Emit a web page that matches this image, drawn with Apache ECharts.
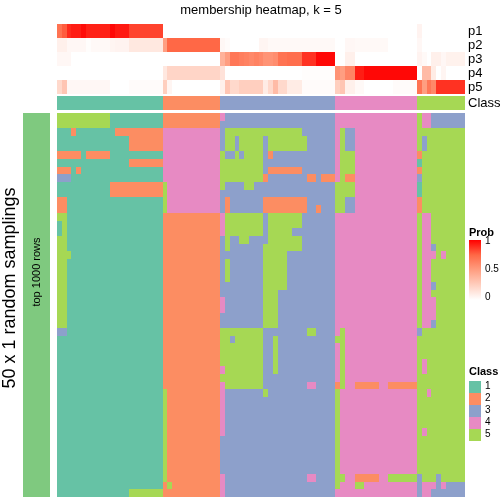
<!DOCTYPE html>
<html><head><meta charset="utf-8">
<script src="https://cdn.jsdelivr.net/npm/echarts@6/dist/echarts.min.js"></script>
<style>html,body{margin:0;padding:0;background:#fff}#c{width:504px;height:504px}</style>
</head><body><div id="c"></div>
<script>
// ---- data ----
const probRowNames = ['p1','p2','p3','p4','p5'];
const p1 = [0.7,0.78,0.9,0.93,0.93,0.97,0.92,0.92,0.92,0.92,0.92,0.98,0.94,0.94,0.94,0.84,0.84,0.84,0.84,0.84,0.84,0.84,
  0,0,0,0,0,0,0,0,0,0,0,0,
  0,0,0,0,0,0,0,0,0,0,0,0,0,0,0,0,0,0,0,0,0,0,0,0,
  0,0,0,0,0,0,0,0,0,0,0,0,0,0,0,0,0,
  0.06,0,0,0,0,0,0,0,0,0];
const p2 = [0.08,0.08,0.04,0.04,0.04,0.04,0.01,0.03,0.03,0.03,0.03,0.05,0.06,0.06,0.06,0.12,0.12,0.12,0.12,0.12,0.12,0.12,
  0.5,0.75,0.75,0.75,0.75,0.75,0.75,0.75,0.75,0.75,0.75,0.75,
  0.04,0.02,0,0,0,0,0,0,0.05,0.05,0.03,0.03,0.03,0.03,0.03,0.03,0.03,0.03,0.03,0.03,0.03,0.03,0.03,0.03,
  0,0,0.04,0.04,0.03,0.03,0.03,0.03,0.03,0.03,0.03,0,0,0,0,0,0,
  0.04,0,0,0,0,0,0,0,0,0];
const p3 = [0.04,0.04,0.04,0,0,0,0,0,0,0,0,0,0,0,0,0,0,0,0,0,0,0,
  0,0,0,0,0,0,0,0,0,0,0,0,
  0.4,0.5,0.68,0.68,0.65,0.63,0.6,0.63,0.6,0.55,0.55,0.58,0.7,0.7,0.72,0.72,0.72,0.88,0.88,0.88,0.98,0.98,0.98,0.98,
  0,0,0.08,0.08,0,0,0,0,0,0,0,0,0,0,0,0,0,
  0.06,0.03,0,0.08,0.08,0.04,0.07,0.07,0.07,0.07];
const p4 = [0,0,0,0,0,0,0,0,0,0,0,0,0,0,0,0,0,0,0,0,0,0,
  0.12,0.22,0.22,0.22,0.22,0.22,0.22,0.22,0.22,0.22,0.22,0.22,
  0.15,0,0,0,0,0,0,0,0,0,0,0,0,0,0,0,0,0.01,0.01,0.01,0.01,0.01,0.01,0.01,
  0.55,0.5,0.62,0.62,0.93,0.93,0.98,0.98,0.98,0.98,0.98,0.98,0.98,0.98,0.98,0.98,0.98,
  0,0.35,0.35,0.1,0,0.05,0,0,0,0];
const p5 = [0.2,0.3,0.04,0.04,0.04,0.04,0.04,0.04,0.04,0.04,0.04,0,0,0,0,0.02,0.02,0.02,0.02,0.02,0.02,0.02,
  0.25,0.05,0,0,0,0,0,0,0,0,0,0,
  0.08,0.3,0.2,0.2,0.25,0.25,0.25,0.25,0.25,0.1,0.2,0.35,0.2,0.2,0.1,0.1,0.1,0.02,0.02,0.02,0.02,0.02,0.02,0.02,
  0.25,0.3,0.08,0.08,0.03,0.03,0,0,0,0,0,0,0.02,0.02,0.02,0.02,0.02,
  0.7,0.5,0.68,0.6,0.88,0.88,0.88,0.88,0.88,0.88];
const classRowStr = "1111111111 1111111111 11|222222222222|333333333333 333333333333|4444444444 4444444|5555555555";
const samplingRows = [
"55555555555 11111111111|222222222222|4 33333333333 333333333333|4444444444 4444444|5 44 3333333",
"55555555555 11111111111|222222222222|333333333333 333333333333|4444444444 4444444|5 44 3333333",
"111 2 11111111 2222222222|444444444444|3 5555555555 555555 3333333|4 5 33 4444444444 444|5555555555",
"1111111111 11111 2222222|444444444444|3 55 3 55555 3 55555555 333333|4 5 33 4444444444 444|5 3 55555555",
"1111111111 11111 2222222|444444444444|3 55 3 55555 3 55555555 333333|4 5 33 4444444444 444|5 3 55555555",
"22222 1 22222 11111111111|444444444444|5 33 5 3 5555 3 2 3333333333 333|4 555 4444444444 444|2 555555555",
"1111111111 11111 2222222|444444444444|555555555 3333333333 33333|4 555 4444444444 444|1 555555555",
"222 1 2 1111111111 1111111|444444444444|555555555 3 2222222 3333333|4 555 4444444444 444|2 555555555",
"333 1111111111 111111111|444444444444|555555555 2 33333333 22 3 222|4 5 22 4444444444 444|3 555555555",
"11111111111 22222222222|5 44444444444|5 3333 55 3333333333 3333333|5555 4444444444 444|1 555555555",
"11111111111 22222222222|5 44444444444|333333333333 333333333333|5555 4444444444 444|1 555555555",
"22 1111111111 1111111111|5 44444444444|3 2 3333333 222222222 333333|55 33 4444444444 444|2 555555555",
"22 1111111111 1111111111|5 44444444444|3 2 3333333 222222222 33 2 333|55 33 4444444444 444|2 555555555",
"55 1111111111 1111111111|222222222222|4 55555555 3 5555555 3333333|4444444444 4444444|5 44 5555555",
"1 5 1111111111 1111111111|222222222222|4 55555555 3 5555555 3333333|4444444444 4444444|5 44 5555555",
"1 5 1111111111 1111111111|222222222222|4 55555555 3 55555 333333333|4444444444 4444444|5 44 5555555",
"55 1111111111 1111111111|222222222222|3 5 33 55 3333 5555555 3333333|4444444444 4444444|5 44 5555555",
"55 1111111111 1111111111|222222222222|3 5 3333333 55555555 3333333|4444444444 4444444|5 44 3 555555",
"555 1111111111 111111111|222222222222|333333333 55555 3333333333|4444444444 4444444|5 444 5 4 5555",
"55 1111111111 1111111111|222222222222|3 5 3333333 55555 3333333333|4444444444 4444444|5 44 5555555",
"55 1111111111 1111111111|222222222222|3 5 3333333 55555 3333333333|4444444444 4444444|5 44 5555555",
"55 1111111111 1111111111|222222222222|3 5 3333333 55555 3333333333|4444444444 4444444|5 44 5555555",
"55 1111111111 1111111111|222222222222|333333333 55555 3333333333|4444444444 4444444|5 44 3 555555",
"55 1111111111 1111111111|222222222222|333333333 555 333333333333|4444444444 4444444|5 44 5555555",
"55 1111111111 1111111111|222222222222|4 33333333 555 333333333333|4444444444 4444444|5 444 555555",
"55 1111111111 1111111111|222222222222|4 33333333 555 333333333333|4444444444 4444444|5 444 555555",
"55 1111111111 1111111111|222222222222|333333333 555 333333333333|4444444444 4444444|5 444 555555",
"55 1111111111 1111111111|222222222222|333333333 555 333333333333|4444444444 4444444|5 44 3 555555",
"33 1111111111 1111111111|222222222222|555555555 333333333 55 3333|4 5 4444444444 44444|3 555555555",
"1111111111 1111111111 11|222222222222|55 3 555555 33 5 333333333333|55 4444444444 44444|5555555555",
"1111111111 1111111111 11|222222222222|555555555 33 5 333333333333|4 5 4444444444 44444|5555555555",
"1111111111 1111111111 11|222222222222|555555555 33 5 333333333333|4 5 4444444444 44444|5555555555",
"1111111111 1111111111 11|222222222222|555555555 33 5 333333333333|4 5 4444444444 44444|5 4 55555555",
"1111111111 1111111111 11|222222222222|4 55555555 33 5 333333333333|4 5 4444444444 44444|5 4 55555555",
"1111111111 1111111111 11|222222222222|555555555 3333333333 33333|4 5 4444444444 44444|5555555555",
"1111111111 1111111111 11|222222222222|4 55555555 333333333 44 3333|2 5 44 22222 44 222222|5555555555",
"1111111111 1111111111 11|5 22222222222|4 33333333 5 3333333333 3333|5 4444444444 444444|55 4 5555555",
"1111111111 1111111111 11|5 22222222222|4 33333333333 333333333333|5 4444444444 444444|5555555555",
"1111111111 1111111111 11|5 22222222222|4 33333333333 333333333333|5 4444444444 444444|5555555555",
"1111111111 1111111111 11|5 22222222222|4 33333333333 333333333333|5 4444444444 444444|5555555555",
"1111111111 1111111111 11|5 22222222222|4 33333333333 333333333333|5 4444444444 444444|5555555555",
"1111111111 1111111111 11|5 22222222222|4 33333333333 333333333333|5 4444444444 444444|5 4 55555555",
"1111111111 1111111111 11|5 22222222222|333333333333 333333333333|5 4444444444 444444|5555555555",
"1111111111 1111111111 11|5 22222222222|333333333333 333333333333|5 4444444444 444444|5555555555",
"1111111111 1111111111 11|5 22222222222|333333333333 333333333333|5 4444444444 444444|5555555555",
"1111111111 1111111111 11|5 22222222222|333333333333 333333333333|5 4444444444 444444|5555555555",
"1111111111 1111111111 11|5 22222222222|333333333333 333333333333|5 4444444444 444444|5555555555",
"1111111111 1111111111 11|5 22222222222|4 3333333333 3333333 44 3333|55 44 22222 44 555555|3 555 3 55555",
"1111111111 1111111111 11|2 5 2222222222|4 33333333333 333333333333|5 444 55 4444444444 4|3 444 3 4 3333",
"1111111111 11111 5555555|222222222222|4 33333333333 333333333333|4444444444 4444444|3 44 3333333"
];
const classNames = ['1','2','3','4','5'];
const classColors = ['#66C2A5','#FC8D62','#8DA0CB','#E78AC3','#A6D854'];
const sideBarColor = '#7FC97F';
const probTicks = [1, 0.5, 0];
const probRamp = ['#FFFFFF','#FFCFBF','#FF9E81','#FF6846','#FF0000'];

// ---- build ----
const clean = s => s.replace(/[ |]/g,'');
const nCol = clean(classRowStr).length;
const probData = [];
[p1,p2,p3,p4,p5].forEach((arr,r)=>arr.forEach((v,c)=>probData.push([c,r,v])));
const classData = clean(classRowStr).split('').map((d,c)=>[c,0,+d]);
const mainData = [];
samplingRows.forEach((s,r)=>{ const t=clean(s); if(t.length!==nCol) console.error('row',r,t.length); t.split('').forEach((d,c)=>mainData.push([c,r,+d])); });
const sideData = samplingRows.map((s,r)=>[0,r,6]);
const cols = Array.from({length:nCol},(_,i)=>i);
const rowsIdx = samplingRows.map((_,i)=>i);

const FONT = 'Liberation Sans, Arial, sans-serif';
const L=57, W=408;
const hidden = {show:false};
function xa(gi){return {type:'category',gridIndex:gi,data:gi===3?[0]:cols,show:false};}
function cellRender(params, api){
  const c = api.coord([api.value(0), api.value(1)]);
  const s = api.size([1,1]);
  const x0 = Math.round(c[0]-s[0]/2), x1 = Math.round(c[0]+s[0]/2);
  const y0 = Math.round(c[1]-s[1]/2), y1 = Math.round(c[1]+s[1]/2);
  return {type:'rect',shape:{x:x0,y:y0,width:x1-x0,height:y1-y0},style:{fill:api.visual('color')}};
}
function cells(gi,data){return {type:'custom',xAxisIndex:gi,yAxisIndex:gi,data:data,renderItem:cellRender,encode:{x:0,y:1},progressive:0,silent:true};}
const chart = echarts.init(document.getElementById('c'),null,{renderer:'canvas'});
const legendG = [];
legendG.push({type:'text',z:100,left:469,top:227,style:{text:'Prob',font:'bold 11px '+FONT,fill:'#000'}});
legendG.push({type:'rect',z:100,shape:{x:469,y:240,width:12,height:60},style:{fill:new echarts.graphic.LinearGradient(0,0,0,1,
  probRamp.slice().reverse().map((c,i)=>({offset:i/(probRamp.length-1),color:c})))}});
probTicks.forEach(t=>{
  const y = 242 + (1-t)*56;
  legendG.push({type:'text',z:100,left:485,top:y-6,style:{text:String(t),font:'10px '+FONT,fill:'#000'}});
});
legendG.push({type:'text',z:100,left:469,top:366,style:{text:'Class',font:'bold 11px '+FONT,fill:'#000'}});
classNames.forEach((n,i)=>{
  legendG.push({type:'rect',z:100,shape:{x:469,y:381+12*i,width:12,height:12},style:{fill:classColors[i]}});
  legendG.push({type:'text',z:100,left:485,top:381+12*i,style:{text:n,font:'10px '+FONT,fill:'#000'}});
});
chart.setOption({
  animation:false,
  backgroundColor:'#fff',
  textStyle:{fontFamily:FONT},
  grid:[
    {left:L,top:24,width:W,height:70},
    {left:L,top:96,width:W,height:14},
    {left:L,top:113,width:W,height:384},
    {left:23,top:113,width:27,height:384}
  ],
  xAxis:[xa(0),xa(1),xa(2),xa(3)],
  yAxis:[
    {type:'category',gridIndex:0,data:probRowNames,inverse:true,position:'right',axisLine:hidden,axisTick:hidden,axisLabel:{interval:0,margin:3,fontSize:13,color:'#000',fontFamily:FONT}},
    {type:'category',gridIndex:1,data:['Class'],position:'right',axisLine:hidden,axisTick:hidden,axisLabel:{interval:0,margin:3,fontSize:13,color:'#000',fontFamily:FONT}},
    {type:'category',gridIndex:2,data:rowsIdx,inverse:true,show:false},
    {type:'category',gridIndex:3,data:rowsIdx,inverse:true,show:false}
  ],
  visualMap:[
    {type:'continuous',seriesIndex:0,dimension:2,min:0,max:1,show:false,inRange:{color:probRamp}},
    {type:'piecewise',seriesIndex:[1,2,3],dimension:2,show:false,pieces:classColors.map((c,i)=>({value:i+1,color:c})).concat([{value:6,color:sideBarColor}])}
  ],
  series:[cells(0,probData),cells(1,classData),cells(2,mainData),cells(3,sideData)],
  graphic:[
    {type:'text',z:100,x:261,y:10,style:{text:'membership heatmap, k = 5',font:'13px '+FONT,fill:'#000',align:'center',verticalAlign:'middle'}},
    {type:'text',z:100,x:37,y:272,rotation:Math.PI/2,style:{text:'top 1000 rows',font:'11px '+FONT,fill:'#000',align:'center',verticalAlign:'middle'}},
    {type:'text',z:100,x:10,y:288,rotation:Math.PI/2,style:{text:'50 x 1 random samplings',font:'18px '+FONT,fill:'#000',align:'center',verticalAlign:'middle'}}
  ].concat(legendG)
});
</script></body></html>
